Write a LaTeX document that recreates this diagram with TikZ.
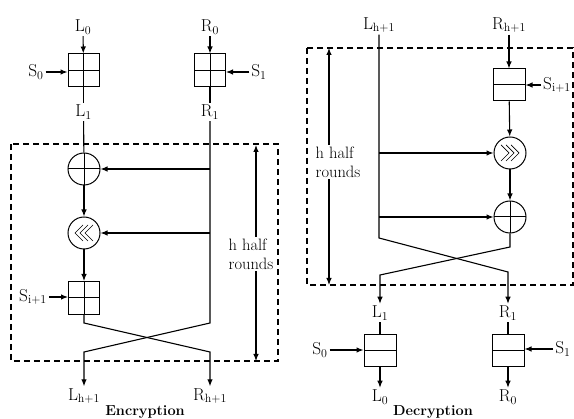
\documentclass[tikz,border=0pt]{standalone}
\usepackage{amsmath,amssymb}
\usepackage{xcolor}
\usepackage{tikz}
\usetikzlibrary{arrows.meta}

\tikzset{
  xbox/.style={draw,line width=1pt,minimum width=31pt,minimum height=33pt,
    path picture={\draw[line width=1pt] (path picture bounding box.north) -- (path picture bounding box.south)
      (path picture bounding box.west) -- (path picture bounding box.east);}},
  hbox/.style={draw,line width=1pt,minimum width=32pt,minimum height=32pt,
    path picture={\draw[line width=1pt] (path picture bounding box.west) -- (path picture bounding box.east);}},
  xorc/.style={draw,circle,line width=1pt,minimum size=32pt,
    path picture={\draw[line width=1pt] (path picture bounding box.north) -- (path picture bounding box.south)
      (path picture bounding box.west) -- (path picture bounding box.east);}},
  rotl/.style={draw,circle,line width=1pt,minimum size=32pt,
    path picture={\foreach \d in {-5,0,5}
      \draw[line width=0.7pt] ([xshift=\d pt+4pt,yshift=8pt]path picture bounding box.center)
        -- ++(-8,8) -- ++(8,8);}},
  rotr/.style={draw,circle,line width=1pt,minimum size=32pt,
    path picture={\foreach \d in {-5,0,5}
      \draw[line width=0.7pt] ([xshift=\d pt-4pt,yshift=8pt]path picture bounding box.center)
        -- ++(8,8) -- ++(-8,8);}},
  round box/.style={dash pattern=on 6pt off 4pt},
}

\begin{document}
\begin{tikzpicture}[x=1pt,y=-1pt,line width=1.1pt,>={Latex[length=7pt,width=5.5pt]},
  every node/.style={inner sep=1.5pt,font=\fontsize{16.5}{19}\selectfont}]
\useasboundingbox (0,0) rectangle (574,419);

% encryption
\node (L0) at (83,27) {$\mathrm{L}_0$};
\node (R0) at (210,27) {$\mathrm{R}_0$};
\node[xbox] (kL) at (83.5,70.5) {};
\node[xbox] (kR) at (210,70.5) {};
\node (S0) at (36,72) {$\mathrm{S}_0$};
\node (S1) at (259,72) {$\mathrm{S}_1$};
\node (L1) at (83.5,112) {$\mathrm{L}_1$};
\node (R1) at (210,112) {$\mathrm{R}_1$};
\node[xorc] (xa) at (84,169) {};
\node[rotl] (ra) at (84,233) {};
\node[xbox] (kS) at (84,298) {};
\node (Si) at (33,297) {$\mathrm{S}_{\mathrm{i+1}}$};
\node (Lh) at (84,396) {$\mathrm{L}_{\mathrm{h+1}}$};
\node (Rh) at (210,396) {$\mathrm{R}_{\mathrm{h+1}}$};
\node[font=\fontsize{14.5}{17}\selectfont\bfseries] (enc) at (145,412) {Encryption};

\draw[->] (L0) -- (kL);
\draw[->] (R0) -- (kR);
\draw[->] (S0) -- (S0 -| kL.west);
\draw[->] (S1) -- (S1 -| kR.east);
\draw (kL) -- (L1);
\draw (kR) -- (R1);
\draw (L1) -- (xa);
\draw[->] (R1 |- xa) -- (xa);
\draw[->] (R1 |- ra) -- (ra);
\draw[->] (xa) -- (ra);
\draw[->] (ra) -- (kS);
\draw[->] (Si) -- (Si -| kS.west);
\draw[->] (R1) -- (210,323) -- (84,352) -- (Lh);
\draw[->] (kS) -- (84,323) -- (210,352) -- (Rh);

\draw[round box] (11,144) rectangle (278,361);
\node[align=left] (hr) at (251,254) {h half\\rounds};
\coordinate (ht) at (256,145);
\coordinate (hb) at (256,361);
\draw[->] (hr.north -| ht) -- (ht);
\draw[->] (hr.south -| hb) -- (hb);

% decryption
\node (Lh2) at (379,25) {$\mathrm{L}_{\mathrm{h+1}}$};
\node (Rh2) at (509,25) {$\mathrm{R}_{\mathrm{h+1}}$};
\node[hbox] (kS2) at (509,85) {};
\node (Si2) at (557,85) {$\mathrm{S}_{\mathrm{i+1}}$};
\node[rotr] (rb) at (510,153) {};
\node[xorc] (xb) at (510,217) {};
\node (L1b) at (380,313) {$\mathrm{L}_1$};
\node (R1b) at (508,313) {$\mathrm{R}_1$};
\node[hbox] (kL2) at (380,351) {};
\node[hbox] (kR2) at (508,351) {};
\node (S0b) at (320,350) {$\mathrm{S}_0$};
\node (S1b) at (563,349) {$\mathrm{S}_1$};
\node (L0b) at (380,397) {$\mathrm{L}_0$};
\node (R0b) at (508,397) {$\mathrm{R}_0$};
\node[font=\fontsize{14.5}{17}\selectfont\bfseries] (dec) at (433,412) {Decryption};

\draw[->] (Rh2) -- (kS2);
\draw[->] (Si2) -- (Si2 -| kS2.east);
\draw[->] (kS2) -- (rb);
\draw[->] (rb) -- (xb);
\draw[->] (Lh2 |- rb) -- (rb);
\draw[->] (Lh2 |- xb) -- (xb);
\draw[->] (Lh2) -- (379,238) -- (508,272) -- (R1b);
\draw[->] (xb) -- (510,247) -- (380,275) -- (L1b);
\draw (L1b) -- (kL2);
\draw (R1b) -- (kR2);
\draw[->] (S0b) -- (S0b -| kL2.west);
\draw[->] (S1b) -- (S1b -| kR2.east);
\draw[->] (kL2) -- (L0b);
\draw[->] (kR2) -- (R0b);

\draw[round box] (307,48) rectangle (573,285);
\node[align=left] (hr2) at (338,162) {h half\\rounds};
\coordinate (ht2) at (329,48);
\coordinate (hb2) at (329,285);
\draw[->] (hr2.north -| ht2) -- (ht2);
\draw[->] (hr2.south -| hb2) -- (hb2);
\end{tikzpicture}
\end{document}
